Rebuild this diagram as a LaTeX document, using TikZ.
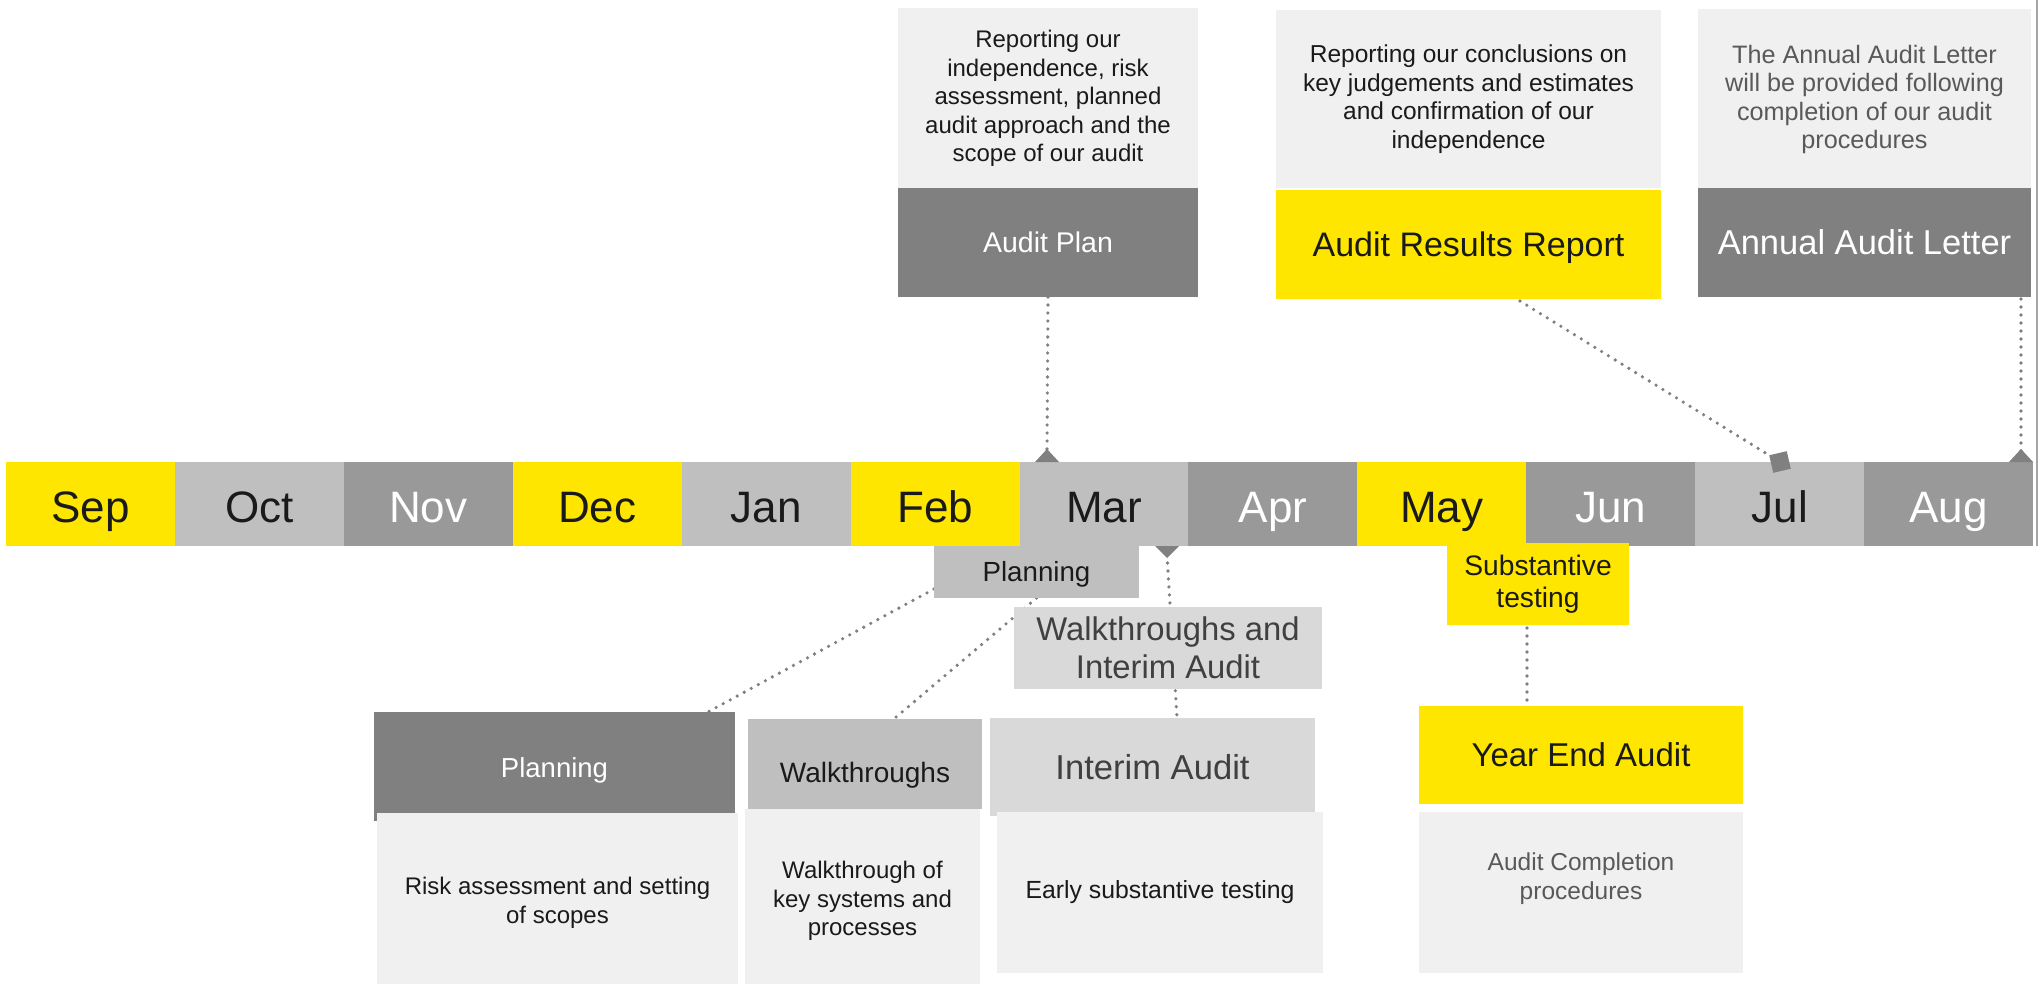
\documentclass[tikz,border=0pt]{standalone}
\usepackage{fontspec}
\setmainfont{Liberation Sans}
\usetikzlibrary{backgrounds,calc}
\definecolor{eyY}{HTML}{FFE600}
\definecolor{mLight}{HTML}{BFBFBF}
\definecolor{mMid}{HTML}{999999}
\definecolor{dkGray}{HTML}{808080}
\definecolor{bxLight}{HTML}{D9D9D9}
\definecolor{descBg}{HTML}{F0F0F0}
\definecolor{txDark}{HTML}{1A1A1A}
\definecolor{txGray}{HTML}{404040}
\definecolor{txMid}{HTML}{595959}
\definecolor{dotc}{HTML}{808080}
\definecolor{edgec}{HTML}{A6A6A6}
\newcommand{\fsz}[2]{\fontsize{#1}{#2}\selectfont}
\tikzset{
  blk/.style={inner sep=0pt, outer sep=0pt, anchor=north west, align=center, text=txDark},
  descbox/.style={blk, fill=descBg, font=\fsz{24}{28.6}},
  capc/.style={text height=#1, text depth=0pt},
  monthbox/.style={blk, minimum width=168.9, minimum height=84, font=\fsz{44}{50}, text height=36pt, text depth=0pt},
  dotline/.style={draw=dotc, line width=3.6pt, dash pattern=on 0pt off 8pt, line cap=round},
  marker/.style={fill=dotc}
}
\begin{document}
\begin{tikzpicture}[x=1pt,y=-1pt]
\useasboundingbox (0,0) rectangle (2040,983);

% month bar
\foreach \i/\m/\c/\t in {0/Sep/eyY/txDark,1/Oct/mLight/txDark,2/Nov/mMid/white,3/Dec/eyY/txDark,
  4/Jan/mLight/txDark,5/Feb/eyY/txDark,6/Mar/mLight/txDark,7/Apr/mMid/white,
  8/May/eyY/txDark,9/Jun/mMid/white,10/Jul/mLight/txDark,11/Aug/mMid/white}{
  \node[monthbox, fill=\c, text=\t] (m\i) at ({6+\i*168.92},462) {\m};
}

% top boxes
\node[descbox, minimum width=300, minimum height=181] (descPlan) at (898,8)
  {Reporting our\\independence, risk\\assessment, planned\\audit approach and the\\scope of our audit};
\node[blk, fill=dkGray, text=white, minimum width=300, minimum height=109, font=\fsz{28.5}{32}, capc=20.4pt] (hdrPlan) at (898,188) {Audit Plan};

\node[descbox, font=\fsz{24.5}{28.6}, minimum width=385, minimum height=178] (descARR) at (1276,10)
  {Reporting our conclusions on\\key judgements and estimates\\and confirmation of our\\independence};
\node[blk, fill=eyY, minimum width=385, minimum height=109, font=\fsz{34}{38}, capc=24.3pt] (hdrARR) at (1276,190) {Audit Results Report};

\node[descbox, text=txMid, font=\fsz{25.2}{28.6}, minimum width=333, minimum height=181] (descAAL) at (1698,9)
  {The Annual Audit Letter\\will be provided following\\completion of our audit\\procedures};
\node[blk, fill=dkGray, text=white, minimum width=333, minimum height=109, font=\fsz{34.5}{38}, capc=24.7pt] (hdrAAL) at (1698,188) {Annual Audit Letter};

% bottom small labels
\node[blk, fill=mLight, minimum width=205, minimum height=52, font=\fsz{27.7}{32}, capc=19.8pt] (planS) at (934,546) {Planning};
\node[blk, fill=bxLight, text=txGray, minimum width=308, minimum height=82, font=\fsz{32.8}{37.7}] (wia) at (1014,607) {Walkthroughs and\\Interim Audit};
\node[blk, fill=eyY, minimum width=182, minimum height=82, font=\fsz{28.2}{32.5}] (subS) at (1447,543) {Substantive\\testing};

% bottom phase boxes
\node[blk, fill=dkGray, text=white, minimum width=361, minimum height=109, font=\fsz{27.5}{32}, capc=22pt] (hdrPl) at (374,712) {Planning};
\node[descbox, minimum width=361, minimum height=180] (descPl) at (377,813) {Risk assessment and setting\\of scopes};

\node[blk, fill=mLight, minimum width=234, minimum height=90, font=\fsz{28}{32}, capc=37pt] (hdrWt) at (748,719) {Walkthroughs};
\node[descbox, minimum width=235, minimum height=184] (descWt) at (745,809) {Walkthrough of\\key systems and\\processes};

\node[blk, fill=bxLight, text=txGray, minimum width=325, minimum height=98, font=\fsz{34.6}{38}, capc=24.8pt] (hdrIA) at (990,718) {Interim Audit};
\node[descbox, font=\fsz{24.8}{28.6}, minimum width=326, minimum height=161] (descIA) at (997,812) {Early substantive testing};

\node[blk, fill=eyY, minimum width=324, minimum height=98, font=\fsz{33}{37}, capc=23.6pt] (hdrYE) at (1419,706) {Year End Audit};
\node[descbox, text=txMid, font=\fsz{24.5}{28.6}, text depth=33pt, minimum width=324, minimum height=161] (descYE) at (1419,812) {Audit Completion\\procedures};

% markers
\fill[marker] (1035,462) -- (1047,449) -- (1059,462) -- cycle;
\coordinate (tPlan) at (1047,452);
\fill[marker] (1155,546) -- (1179,546) -- (1167,558) -- cycle;
\coordinate (tIA) at (1167,555);
\fill[marker] (2009,462) -- (2021,449) -- (2033,462) -- cycle;
\coordinate (tAAL) at (2021,452);
\node[marker, inner sep=0pt, minimum size=18, rotate=13] (dJul) at (1780,462) {};

% connector end points
\coordinate (arrT) at (1520,301);
\coordinate (aalT) at (2021,299);
\coordinate (psA) at (934,589);
\coordinate (plTop) at (706,713);
\coordinate (wtTop) at (895,718);
\coordinate (iaTop) at (1177,718);
\coordinate (ssB) at (1527,628);
\coordinate (yeTop) at (1527,706);

\begin{scope}[on background layer]
  \fill[white] (0,0) rectangle (2040,983);
  \draw[dotline] (hdrPlan.south) -- (tPlan);
  \draw[dotline] (arrT) -- (dJul.center);
  \draw[dotline] (aalT) -- (tAAL);
  \draw[dotline] (psA) -- (plTop);
  \draw[dotline] (planS.south) -- (wtTop);
  \draw[dotline] (tIA) -- (iaTop);
  \draw[dotline] (ssB) -- (yeTop);
\end{scope}

% right edge
\draw[edgec, line width=2pt] (2037,0) -- (2037,546);
\end{tikzpicture}
\end{document}
